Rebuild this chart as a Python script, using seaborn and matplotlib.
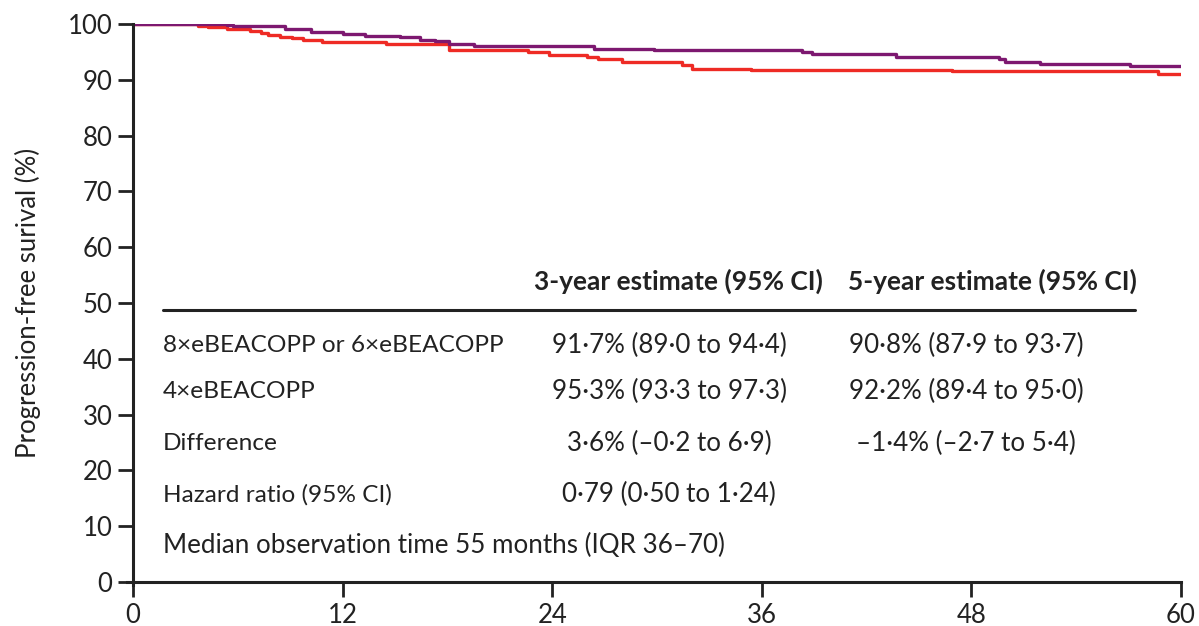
import numpy as np
import pandas as pd
import matplotlib
matplotlib.use("Agg")
import matplotlib.pyplot as plt
import seaborn as sns

# Kaplan-Meier step data (months, % progression-free)
red_time = [0, 3.7, 4.3, 5.4, 6.7, 7.3, 7.7, 8.4, 9.1, 9.7, 10.8, 14.5, 18.1,
            22.6, 23.8, 26.0, 26.6, 28.0, 29.4, 31.4, 32.0, 35.4, 46.9, 58.7, 60]
red_surv = [100, 99.6, 99.4, 99.1, 98.7, 98.4, 98.1, 97.7, 97.4, 97.1, 96.8, 96.5, 95.4,
            94.9, 94.4, 94.0, 93.7, 93.2, 93.1, 92.7, 91.9, 91.8, 91.5, 91.0, 91.0]

purple_time = [0, 5.4, 5.7, 8.7, 10.2, 12.0, 13.3, 15.3, 16.4, 17.3, 18.1, 19.5,
               26.4, 29.8, 38.3, 38.9, 43.7, 49.6, 49.9, 51.9, 57.1, 60]
purple_surv = [100, 99.8, 99.6, 99.1, 98.6, 98.2, 97.8, 97.6, 97.2, 96.9, 96.5, 96.0,
               95.6, 95.3, 94.9, 94.6, 94.1, 93.8, 93.1, 92.8, 92.4, 92.4]

arms = ["8×eBEACOPP or 6×eBEACOPP", "4×eBEACOPP"]
arm_colors = ["#EE2B25", "#7D1870"]

x_ticks = [0, 12, 24, 36, 48, 60]
y_ticks = list(range(0, 101, 10))

col_headers = ["3-year estimate (95% CI)", "5-year estimate (95% CI)"]
row_labels = ["8×eBEACOPP or 6×eBEACOPP", "4×eBEACOPP", "Difference",
              "Hazard ratio (95% CI)"]
col3y = ["91·7% (89·0 to 94·4)", "95·3% (93·3 to 97·3)", "3·6% (–0·2 to 6·9)",
         "0·79 (0·50 to 1·24)"]
col5y = ["90·8% (87·9 to 93·7)", "92·2% (89·4 to 95·0)", "–1·4% (–2·7 to 5·4)", ""]
footnote = "Median observation time 55 months (IQR 36–70)"

df = pd.concat([
    pd.DataFrame({"time": red_time, "surv": red_surv, "arm": arms[0]}),
    pd.DataFrame({"time": purple_time, "surv": purple_surv, "arm": arms[1]}),
], ignore_index=True)

sns.set_theme(style="ticks")
plt.rcParams["font.family"] = ["Lato", "DejaVu Sans"]

fig = plt.figure(figsize=(11.99, 6.26), dpi=100)
ax = fig.add_axes([0.111, 0.0703, 0.874, 0.8914])

sns.lineplot(data=df, x="time", y="surv", hue="arm", palette=arm_colors,
             hue_order=arms, estimator=None, sort=False, drawstyle="steps-post",
             linewidth=2.4, legend=False, ax=ax)

tc = "#222222"
ax.set_xlim(0, 60)
ax.set_ylim(0, 100)
ax.set_xticks(x_ticks)
ax.set_yticks(y_ticks)
ax.tick_params(axis="both", labelsize=18.5, width=2, length=11, pad=4, color=tc,
               labelcolor=tc)
ax.set_xlabel("")
ax.set_ylabel("Progression-free surival (%)", fontsize=18.5, color=tc, labelpad=19)
for side in ["top", "right"]:
    ax.spines[side].set_visible(False)
for side in ["left", "bottom"]:
    ax.spines[side].set_linewidth(2.2)
    ax.spines[side].set_color(tc)
ax.spines["left"].set_bounds(-0.6, 100)
ax.spines["bottom"].set_bounds(-0.35, 60)

# Summary table drawn inside the plot area
fs_lab = 17.6
fs_val = 18.7
fs_head = 19
ax.text(31.2, 53.9, col_headers[0], fontsize=fs_head, fontweight="bold", ha="center",
        va="center", color=tc)
ax.text(49.2, 53.9, col_headers[1], fontsize=fs_head, fontweight="bold", ha="center",
        va="center", color=tc)
ax.plot([1.7, 57.35], [48.7, 48.7], color=tc, linewidth=2.2)
row_y = [42.3, 34.2, 24.9, 15.6]
for y, lab, a, b in zip(row_y, row_labels, col3y, col5y):
    ax.text(1.7, y, lab, fontsize=fs_lab, ha="left", va="center", color=tc)
    ax.text(30.7, y, a, fontsize=fs_val, ha="center", va="center", color=tc)
    if b:
        ax.text(47.7, y, b, fontsize=fs_val, ha="center", va="center", color=tc)
ax.text(1.7, 6.6, footnote, fontsize=fs_val, ha="left", va="center", color=tc)

fig.savefig("out.png", dpi=100)
